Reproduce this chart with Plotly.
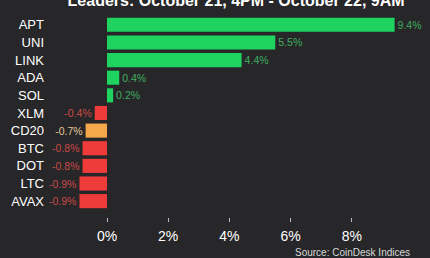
import plotly.graph_objects as go

categories = ["APT", "UNI", "LINK", "ADA", "SOL", "XLM", "CD20", "BTC", "DOT", "LTC", "AVAX"]
values = [9.4, 5.5, 4.4, 0.4, 0.2, -0.4, -0.7, -0.8, -0.8, -0.9, -0.9]
tick_vals = [0, 2, 4, 6, 8]
tick_text = ["0%", "2%", "4%", "6%", "8%"]
title_text = "Leaders: October 21, 4PM - October 22, 9AM"
source_text = "Source: CoinDesk Indices"

GREEN, RED, ORANGE = "#1fd360", "#f03b3b", "#f4a84a"
bar_colors = [ORANGE if c == "CD20" else (GREEN if v >= 0 else RED) for c, v in zip(categories, values)]
text_colors = ["#e6c79a" if c == "CD20" else ("#3fae62" if v >= 0 else "#cc4a4a") for c, v in zip(categories, values)]
labels = [f"{v:.1f}%" for v in values]

fig = go.Figure(go.Bar(
    x=values, y=categories, orientation="h",
    marker=dict(color=bar_colors, line=dict(width=0)),
    text=labels, textposition="outside", cliponaxis=False,
    textfont=dict(color=text_colors, size=10.5, family="Liberation Sans"),
))

BG = "#272628"
fig.update_layout(
    width=430, height=258,
    margin=dict(l=50, r=10, t=16, b=41),
    paper_bgcolor=BG, plot_bgcolor=BG,
    bargap=0.2, showlegend=False,
    font=dict(family="Liberation Sans", color="white"),
    title=dict(text=f"<b>{title_text}</b>", x=0.549, xanchor="center", xref="container",
               y=1.0, yanchor="middle", yref="container",
               font=dict(size=16, color="white", family="Liberation Sans")),
    xaxis=dict(range=[-1.863, 10.23], tickvals=tick_vals, ticktext=tick_text,
               showgrid=False, zeroline=False, showline=False,
               ticks="outside", ticklen=4, tickwidth=1, tickcolor="#bbbbbb",
               tickfont=dict(size=14, color="white"), ticklabelstandoff=2),
    yaxis=dict(categoryorder="array", categoryarray=categories, range=[10.9, -0.5],
               showgrid=False, zeroline=False, showline=False, ticks="",
               tickfont=dict(size=13, color="white"), ticklabelstandoff=5),
    annotations=[dict(text=source_text, xref="paper", yref="paper", x=1.0, y=0,
                      xanchor="right", yanchor="middle", yshift=-35, xshift=-8,
                      showarrow=False, font=dict(size=10, color="#d8d8d8"))],
)

fig.write_html("out.html")
